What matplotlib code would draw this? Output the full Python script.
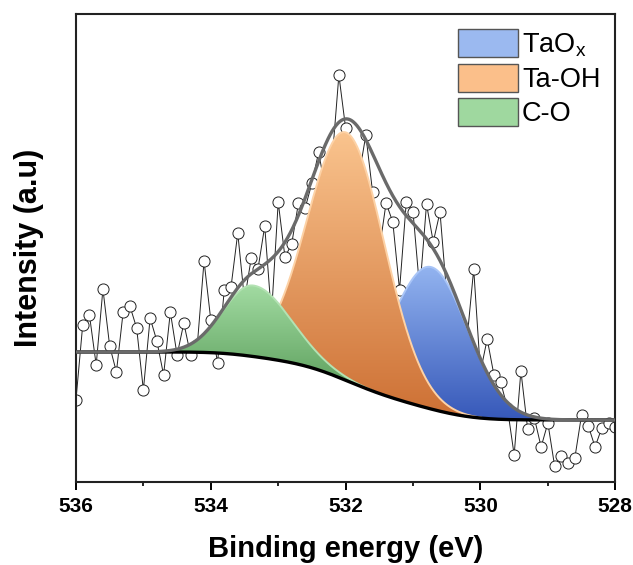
import numpy as np
import matplotlib
matplotlib.use('Agg')
import matplotlib.pyplot as plt
from matplotlib.colors import LinearSegmentedColormap
from matplotlib.patches import Patch

plt.rcParams['font.family'] = ['Liberation Sans', 'DejaVu Sans']
plt.rcParams['mathtext.fontset'] = 'custom'
plt.rcParams['mathtext.rm'] = 'Liberation Sans'

# O 1s raw spectrum, 536 -> 528 eV in 0.1 eV steps (arb. units)
energy = np.round(np.linspace(536.0, 528.0, 81), 2)
counts = np.array([
    82, 157, 167, 117, 193, 136, 110, 170, 176, 154,
    92, 164, 141, 107, 170, 127, 159, 127, 137, 221,
    162, 119, 192, 195, 249, 182, 224, 213, 256, 167,
    280, 225, 238, 279, 274, 299, 330, 292, 322, 407,
    354, 322, 307, 347, 290, 232, 279, 260, 192, 280,
    270, 192, 278, 240, 270, 187, 172, 157, 142, 213,
    110, 143, 107, 100, 74, 27, 111, 53, 64, 35,
    59, 16, 26, 19, 24, 67, 56, 35, 54, 59, 55,
])

# fitted components: name, centre (eV), height, sigma low-BE side, sigma high-BE side
peak_names = ['TaO$_\\mathregular{x}$', 'Ta-OH', 'C-O']
peak_centres = [530.73, 531.99, 533.37]
peak_heights = [142, 248, 71]
peak_sig_lo = [0.55, 0.57, 0.56]
peak_sig_hi = [0.55, 0.57, 0.445]

# Shirley background end levels
bg_high_be = 130
bg_low_be = 62

fill_top = ['#93b4f0', '#fac48e', '#a2dba2']
fill_bot = ['#3658b9', '#cd7034', '#5c9f5c']
edge_col = ['#a9c5f7', '#fdd2a6', '#b3e2b3']
legend_col = ['#9bb9f0', '#fbbf8a', '#9fd89f']


def split_gauss(x, c, h, s_lo, s_hi):
    s = np.where(x < c, s_lo, s_hi)
    return h * np.exp(-0.5 * ((x - c) / s) ** 2)


xf = np.linspace(528.0, 536.0, 801)
comps = [split_gauss(xf, c, h, a, b)
         for c, h, a, b in zip(peak_centres, peak_heights, peak_sig_lo, peak_sig_hi)]
total = np.sum(comps, axis=0)
cum = np.concatenate([[0], np.cumsum(0.5 * (total[1:] + total[:-1]) * np.diff(xf))])
bg = bg_low_be + (bg_high_be - bg_low_be) * cum / cum[-1]
envelope = bg + total

fig = plt.figure(figsize=(6.33, 5.65), dpi=100)
ax = fig.add_axes([0.120, 0.147, 0.852, 0.828])

ax.plot(energy, counts, color='#222222', lw=0.7, marker='o', ms=8,
        mfc='white', mec='#222222', mew=0.7, zorder=2)

grad = np.linspace(0, 1, 256).reshape(-1, 1)
# draw order: TaOx, Ta-OH, C-O (C-O on top)
for k in range(3):
    upper = bg + comps[k]
    z = 3 + k
    poly = ax.fill_between(xf, bg, upper, facecolor='none', edgecolor='none', zorder=z)
    cmap = LinearSegmentedColormap.from_list('g%d' % k, [fill_bot[k], fill_top[k]])
    mask = comps[k] > 0.5
    im = ax.imshow(grad, cmap=cmap, aspect='auto', origin='lower', interpolation='bilinear',
                   extent=[528, 536, bg[mask].min(), upper.max()], zorder=z)
    im.set_clip_path(poly.get_paths()[0], transform=ax.transData)
    ax.plot(xf[mask], upper[mask], color=edge_col[k], lw=1.4, zorder=z + 0.1)

ax.plot(xf, bg, color='black', lw=2.4, zorder=6)
ax.plot(xf, envelope, color='#6a6a6a', lw=2.4, zorder=7)

ax.set_xlim(536, 528)
ax.set_ylim(0, 468)
ax.set_xticks([536, 534, 532, 530, 528])
ax.set_xticks([535, 533, 531, 529], minor=True)
ax.set_yticks([])
ax.tick_params(axis='x', which='major', direction='out', length=5.5, width=1.4, pad=5,
               labelsize=15)
ax.tick_params(axis='x', which='minor', direction='out', length=3, width=1.2)
for lab in ax.get_xticklabels():
    lab.set_fontweight('bold')
for sp in ax.spines.values():
    sp.set_linewidth(1.5)
    sp.set_color('#222222')

ax.set_xlabel('Binding energy (eV)', fontsize=21, fontweight='bold', labelpad=14)
ax.set_ylabel('Intensity (a.u)', fontsize=22, fontweight='bold', labelpad=23)

handles = [Patch(facecolor=legend_col[k], edgecolor='#555555', lw=1) for k in range(3)]
ax.legend(handles, peak_names, loc='upper right', frameon=False, fontsize=19.5,
          handlelength=2.2, handleheight=1.2, labelspacing=0.2, handletextpad=0.15,
          borderpad=0.4, borderaxespad=0.15)

fig.savefig('out.png', dpi=100)
